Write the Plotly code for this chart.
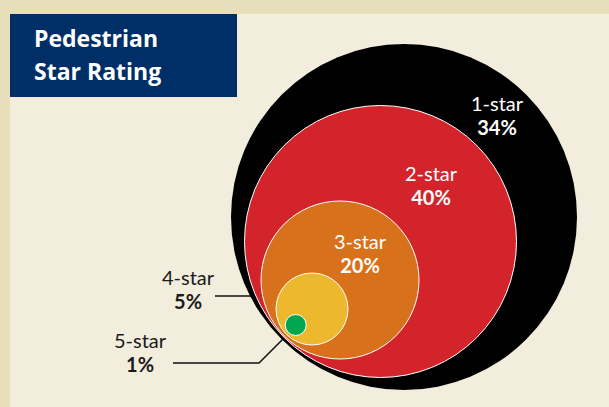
import plotly.graph_objects as go

# ---- data ----
ratings = ["1-star", "2-star", "3-star", "4-star", "5-star"]
percents = [34, 40, 20, 5, 1]
title_lines = ["Pedestrian", "Star Rating"]

# ---- layout constants (pixel-like axis space, y down) ----
W, H = 609, 407
CREAM = "#f2eddc"
BAND = "#e7dfb9"
NAVY = "#002f67"
colors = ["#000000", "#d3242c", "#d8711c", "#eeb82e", "#00a651"]
outline = [None, "white", "white", "white", "white"]
centers = [(404, 217), (380.5, 241.5), (340, 280), (312, 309), (295.7, 325)]
radii = [173, 136, 79, 36, 10.5]

label_pos = [(497, 115, "white"), (431, 185, "white"), (360, 253, "white"),
             (188, 289, "#1a1a1a"), (140, 352, "#1a1a1a")]

LABEL_FONT = "Lato"
TITLE_FONT = "Open Sans"

fig = go.Figure()
shapes = []
# background bands
shapes.append(dict(type="rect", x0=0, x1=W, y0=0, y1=14, fillcolor=BAND, line_width=0, layer="below"))
shapes.append(dict(type="rect", x0=0, x1=10, y0=0, y1=H, fillcolor=BAND, line_width=0, layer="below"))
shapes.append(dict(type="rect", x0=10, x1=237, y0=14, y1=97, fillcolor=NAVY, line_width=0, layer="below"))

for (cx, cy), r, c, o in zip(centers, radii, colors, outline):
    shapes.append(dict(type="circle", x0=cx - r, x1=cx + r, y0=cy - r, y1=cy + r,
                       fillcolor=c,
                       line=dict(color=o if o else c, width=1 if o else 0)))

# leader lines
fig.add_trace(go.Scatter(x=[215, 293], y=[296, 296], mode="lines",
                         line=dict(color="#111111", width=1.5), hoverinfo="skip", showlegend=False))
fig.add_trace(go.Scatter(x=[173, 259, 293], y=[363, 363, 329], mode="lines",
                         line=dict(color="#111111", width=1.5), hoverinfo="skip", showlegend=False))

annotations = []
for name, pct, (x, y, col) in zip(ratings, percents, label_pos):
    txt = (f"<span style='font-size:20px'>{name}</span><br>"
           f"<span style='font-size:20px;font-weight:bold'>{pct}%</span>")
    annotations.append(dict(x=x, y=y, text=txt, showarrow=False,
                            xanchor="center", yanchor="middle", align="center",
                            font=dict(family=LABEL_FONT, size=18.6, color=col)))

for i, t in enumerate(title_lines):
    annotations.append(dict(x=32, y=38 + i * 33, text=f"<b>{t}</b>", showarrow=False, xanchor="left",
                            yanchor="middle", font=dict(family=TITLE_FONT, size=23, color="white")))

fig.update_layout(
    width=W, height=H, margin=dict(l=0, r=0, t=0, b=0),
    paper_bgcolor=CREAM, plot_bgcolor=CREAM,
    xaxis=dict(range=[0, W], visible=False, fixedrange=True),
    yaxis=dict(range=[H, 0], visible=False, fixedrange=True),
    shapes=shapes, annotations=annotations, showlegend=False,
)
fig.write_html("out.html", config={"displayModeBar": False},
               post_script="document.body.style.margin='0';document.body.style.padding='0';"
                           "document.body.style.overflow='hidden';")
